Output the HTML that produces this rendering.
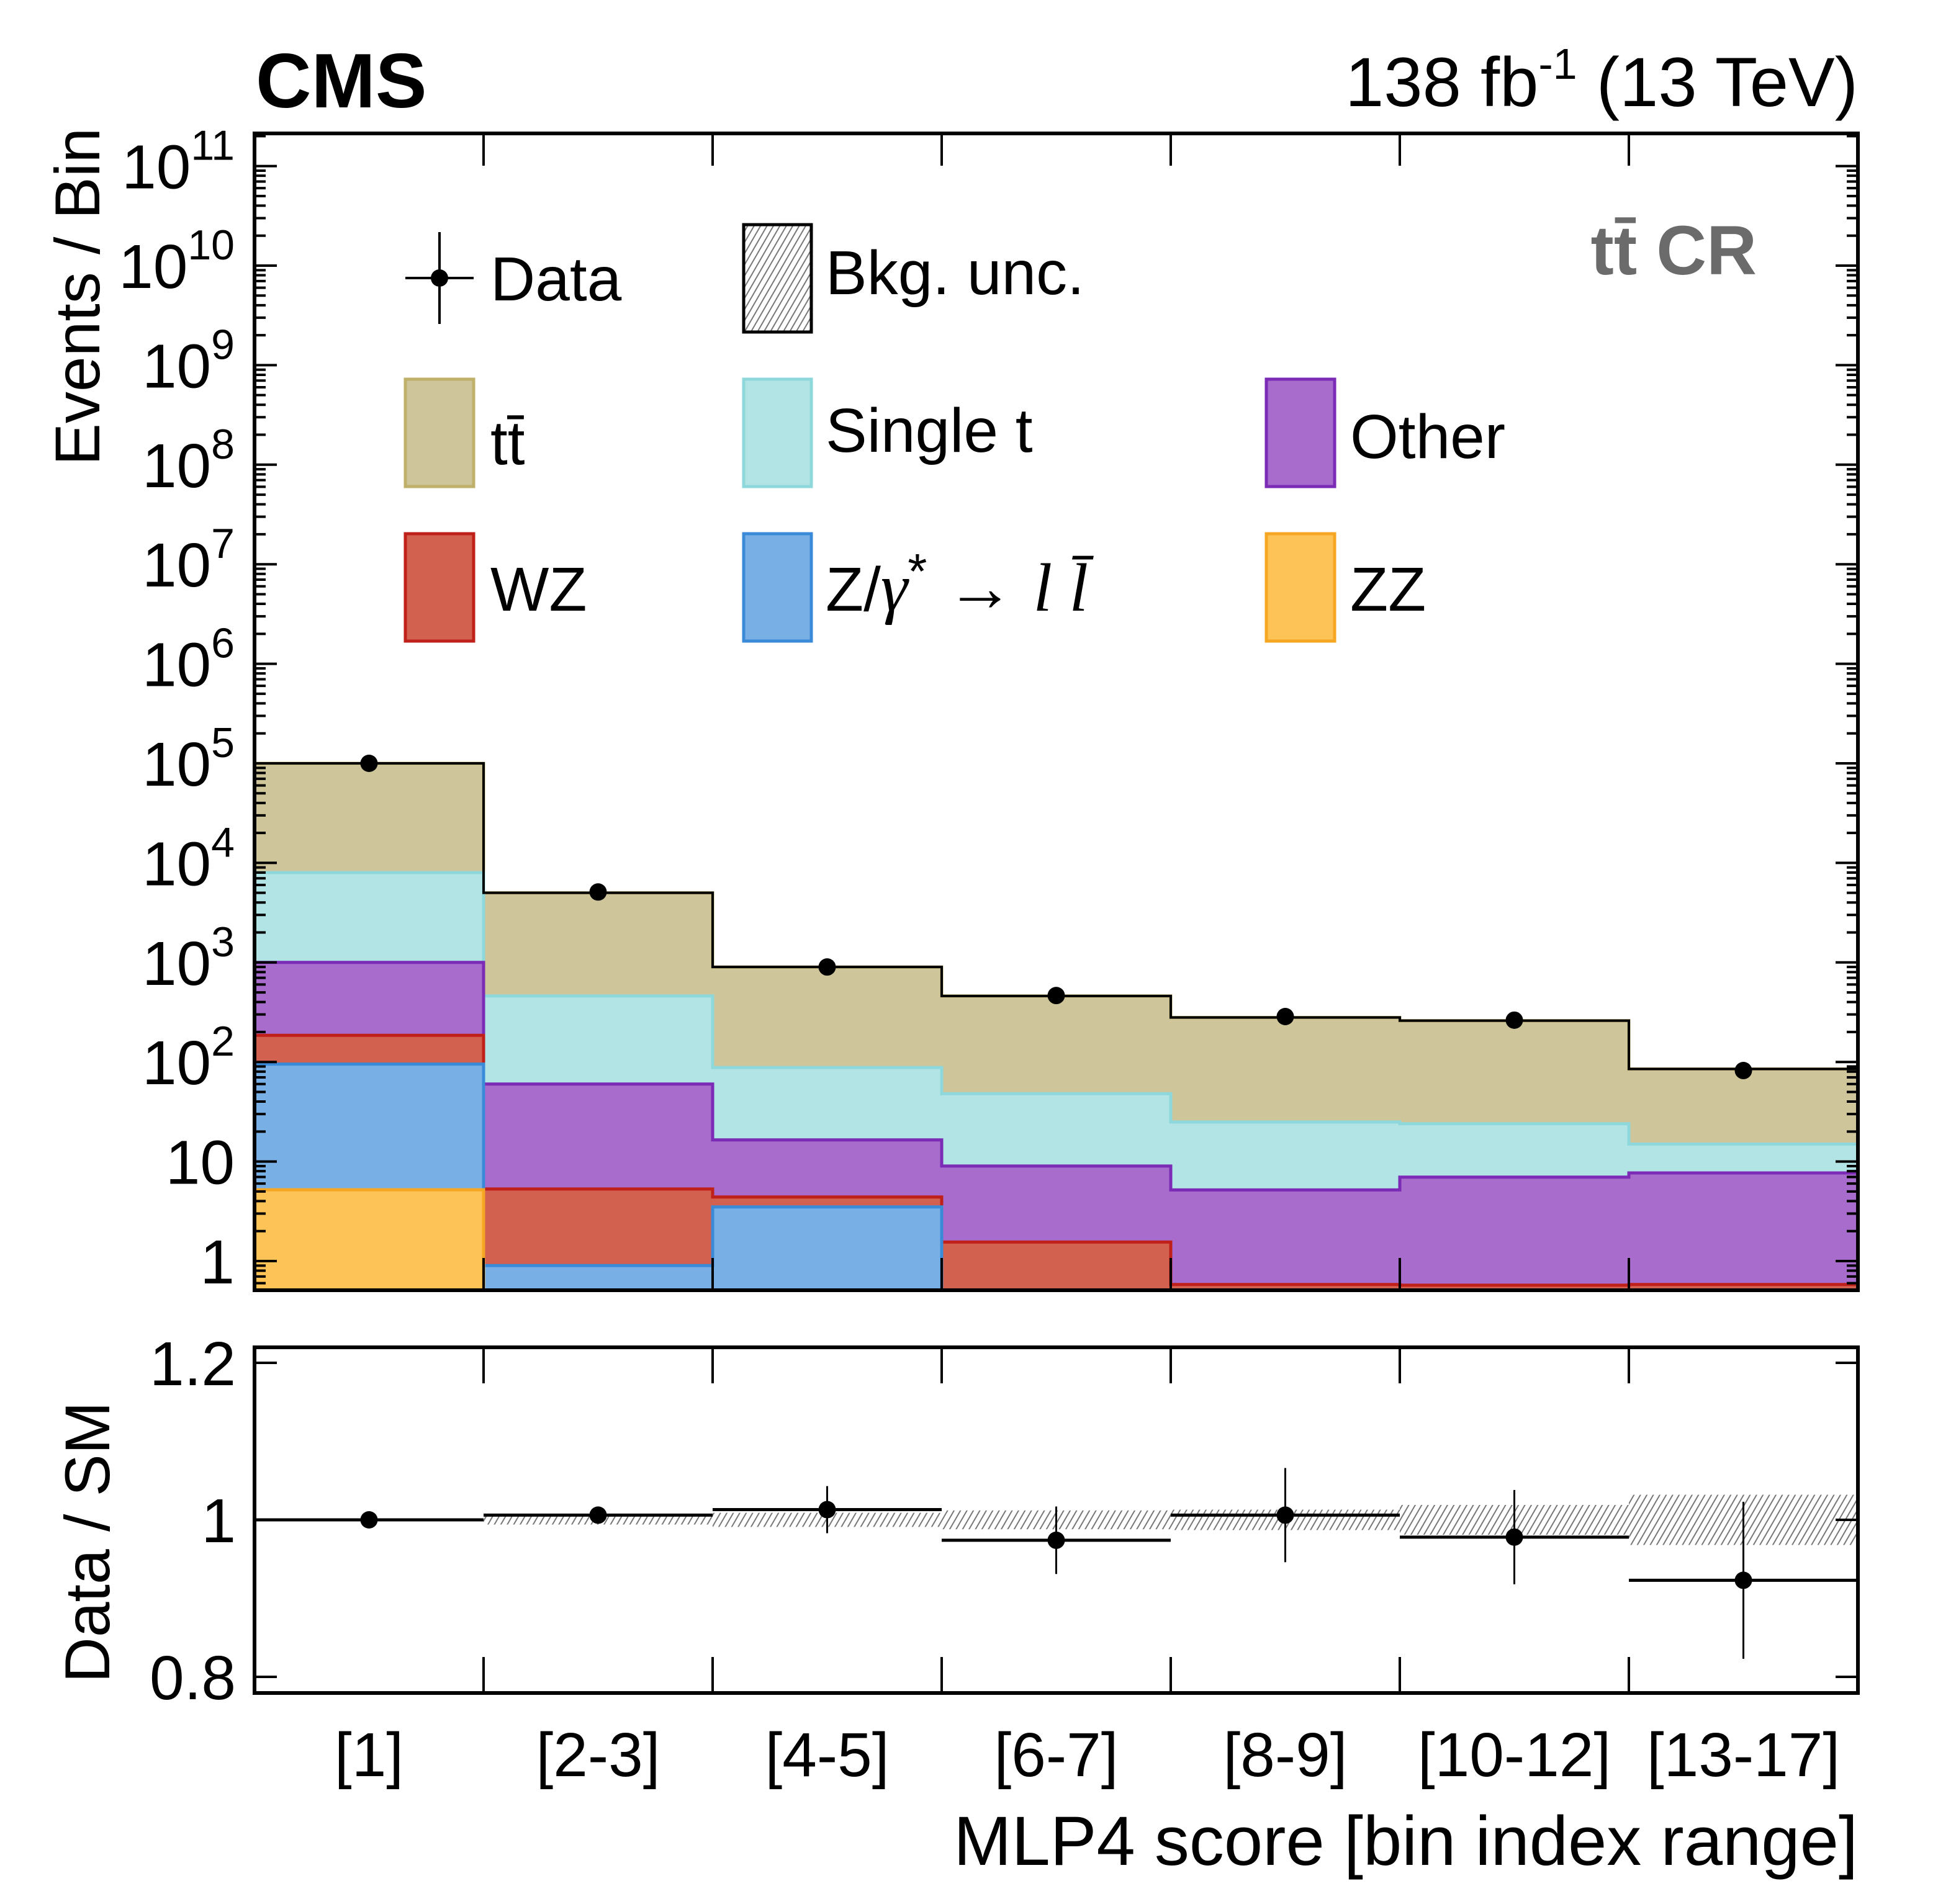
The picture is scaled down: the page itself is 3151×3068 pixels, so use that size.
<!DOCTYPE html>
<html><head><meta charset="utf-8">
<style>
html,body{margin:0;padding:0;background:#fff;}
svg{display:block;font-family:"Liberation Sans",Arial,sans-serif;}
</style></head>
<body>
<svg id="chart" width="3151" height="3068" viewBox="0 0 3151 3068" xmlns="http://www.w3.org/2000/svg">
<defs>
<pattern id="hatch" patternUnits="userSpaceOnUse" width="9" height="9" patternTransform="rotate(30)">
<rect width="9" height="9" fill="#fff"/>
<line x1="0" y1="0" x2="0" y2="9" stroke="#777" stroke-width="4"/>
</pattern>
</defs>
<text x="412" y="173" font-size="124" font-weight="bold">CMS</text>
<text x="2993" y="171" font-size="112" text-anchor="end">138 fb<tspan font-size="70" dy="-44">-1</tspan><tspan dy="44"> (13 TeV)</tspan></text>
<text x="2830" y="442" font-size="112" font-weight="bold" fill="#6b6b6b" text-anchor="end">tt̄ CR</text>
<text transform="translate(160,478) rotate(-90)" font-size="102" text-anchor="middle">Events / Bin</text>
<text transform="translate(176,2485) rotate(-90)" font-size="102" text-anchor="middle">Data / SM</text>
<text x="2993" y="3005" font-size="112" text-anchor="end">MLP4 score [bin index range]</text>
<g id="main"></g>
<g id="ratio"></g>
<g id="legend">
  <g>
    <line x1="653" y1="448" x2="763" y2="448" stroke="#000" stroke-width="4"/>
    <line x1="708" y1="374" x2="708" y2="522" stroke="#000" stroke-width="4"/>
    <circle cx="708" cy="448" r="14" fill="#000"/>
    <text x="790" y="484" font-size="100">Data</text>
  </g>
  <g>
    <rect x="1198" y="362" width="109" height="173" fill="url(#hatch)" stroke="#000" stroke-width="5"/>
    <text x="1330" y="474" font-size="100">Bkg. unc.</text>
  </g>
  <g>
    <rect x="653" y="611" width="110" height="173" fill="#cec59a" stroke="#bfb06a" stroke-width="5"/>
    <text x="790" y="748" font-size="100">tt̄</text>
  </g>
  <g>
    <rect x="1198" y="611" width="109" height="173" fill="#b2e4e6" stroke="#8ed8dc" stroke-width="5"/>
    <text x="1330" y="728" font-size="100">Single t</text>
  </g>
  <g>
    <rect x="2040" y="611" width="110" height="173" fill="#a86ccc" stroke="#7b2bb5" stroke-width="5"/>
    <text x="2175" y="738" font-size="100">Other</text>
  </g>
  <g>
    <rect x="653" y="860" width="110" height="173" fill="#d2614f" stroke="#c0201a" stroke-width="5"/>
    <text x="790" y="984" font-size="100">WZ</text>
  </g>
  <g>
    <rect x="1198" y="860" width="109" height="173" fill="#78b0e5" stroke="#3a8ad8" stroke-width="5"/>
    <text x="1330" y="984" font-size="100">Z/<tspan font-family="Liberation Serif" font-style="italic" font-size="110">γ</tspan><tspan font-size="80" dy="-36">*</tspan><tspan dy="36" font-size="110"> → </tspan><tspan font-family="Liberation Serif" font-style="italic" font-size="110">l l̄</tspan></text>
  </g>
  <g>
    <rect x="2040" y="860" width="110" height="173" fill="#fec356" stroke="#f5a623" stroke-width="5"/>
    <text x="2175" y="984" font-size="100">ZZ</text>
  </g>
</g>
</svg>
<script>
const categories = ["[1]","[2-3]","[4-5]","[6-7]","[8-9]","[10-12]","[13-17]"];
const zz     = [5.2, 0.001, 0.001, 0.001, 0.001, 0.001, 0.001];
const dy     = [90, 0.9, 3.5, 0.001, 0.001, 0.001, 0.001];
const wz     = [90, 4.4, 0.9, 1.55, 0.58, 0.57, 0.58];
const other  = [815, 54.7, 12.1, 7.45, 4.6, 6.4, 7.1];
const singleT= [7000, 400, 71.5, 39, 19.8, 17, 7.3];
const ttbar  = [92000, 4540, 812, 412, 255, 236, 70];
const dataVals = [100000, 5100, 900, 465, 286, 263, 82];
const ratioVals = [1.0, 1.006, 1.013, 0.974, 1.006, 0.978, 0.923];
const ratioErr  = [0.003, 0.01, 0.03, 0.043, 0.06, 0.06, 0.1];
const bandErr   = [0.001, 0.006, 0.009, 0.012, 0.013, 0.019, 0.032];
const yTickExps = [0,1,2,3,4,5,6,7,8,9,10,11];
const ratioTicks = [0.8, 1, 1.2];

const NS="http://www.w3.org/2000/svg";
const L=410, R=2993, T=215, B=2079, RT=2171, RB=2728;
const nb=categories.length, bw=(R-L)/nb;
const xEdge=i=>L+i*bw;
const xC=i=>L+(i+0.5)*bw;
const yLog=v=>2032-160.4*Math.log10(Math.max(v,1e-3));
const yR=v=>2449-(v-1)*1265;
function mk(tag,attrs,parent){const e=document.createElementNS(NS,tag);for(const k in attrs)e.setAttribute(k,attrs[k]);parent.appendChild(e);return e;}
const main=document.getElementById('main');
const ratio=document.getElementById('ratio');
mk('clipPath',{id:'mclip'},main);
mk('rect',{x:L,y:T,width:R-L,height:B-T},main.lastChild);
mk('clipPath',{id:'rclip'},ratio);
mk('rect',{x:L,y:RT,width:R-L,height:RB-RT},ratio.lastChild);
const stackG=mk('g',{'clip-path':'url(#mclip)'},main);


const comps=[[zz,'#fec356','#f5a623','zz'],[dy,'#78b0e5','#3a8ad8','dy'],[wz,'#d2614f','#c0201a','wz'],[other,'#a86ccc','#7b2bb5','other'],[singleT,'#b2e4e6','#8ed8dc','single-t'],[ttbar,'#cec59a','#bfb06a','ttbar']];
const cum=new Array(nb).fill(0);
const layers=[];
comps.forEach(c=>{const lo=cum.slice();for(let i=0;i<nb;i++)cum[i]+=c[0][i];layers.push([lo,cum.slice(),c]);});
for(let k=layers.length-1;k>=0;k--){
  const [lo,hi,c]=layers[k];
  for(let i=0;i<nb;i++){
    const y=yLog(hi[i]);
    const r=mk('rect',{x:xEdge(i),y:y,width:bw,height:B-y+10,fill:c[1]},stackG);
    
    
  }
  let d='';
  for(let i=0;i<nb;i++){const y=yLog(hi[i]);d+=(i==0?'M':'L')+xEdge(i)+','+y+'L'+xEdge(i+1)+','+y;}
  const p=mk('path',{d:d,fill:'none',stroke:c[2],'stroke-width':5},stackG);
  
  
}
let dt='';
for(let i=0;i<nb;i++){const y=yLog(cum[i]);dt+=(i==0?'M':'L')+xEdge(i)+','+y+'L'+xEdge(i+1)+','+y;}
const tl=mk('path',{d:dt,fill:'none',stroke:'#000','stroke-width':4},stackG);


const fr=mk('rect',{x:L,y:T,width:R-L,height:B-T,fill:'none',stroke:'#000','stroke-width':6},main);


for(let i=1;i<nb;i++){
  mk('line',{x1:xEdge(i),y1:T,x2:xEdge(i),y2:T+52,stroke:'#000','stroke-width':4},main);
  mk('line',{x1:xEdge(i),y1:B,x2:xEdge(i),y2:B-52,stroke:'#000','stroke-width':4},main);
}
for(let e=-1;e<=11;e++){
  for(let m=1;m<=9;m++){
    const v=m*Math.pow(10,e), y=yLog(v);
    if(y<T||y>B) continue;
    const len=m==1?36:18;
    mk('line',{x1:L,y1:y,x2:L+len,y2:y,stroke:'#000','stroke-width':4},main);
    mk('line',{x1:R,y1:y,x2:R-len,y2:y,stroke:'#000','stroke-width':4},main);
  }
}
yTickExps.forEach(e=>{
  const y=yLog(Math.pow(10,e));
  const t=mk('text',{x:378,y:y+36,'font-size':100,'text-anchor':'end'},main);
  
  
  if(e==0){t.textContent='1';}
  else if(e==1){t.textContent='10';}
  else{
    const a=document.createElementNS(NS,'tspan');a.textContent='10';t.appendChild(a);
    const b=document.createElementNS(NS,'tspan');b.setAttribute('font-size','68');b.setAttribute('dy','-46');b.textContent=String(e);t.appendChild(b);
  }
});
dataVals.forEach((v,i)=>{
  const c=mk('circle',{cx:xC(i),cy:yLog(v),r:14,fill:'#000'},main);
  
  
});
const rg=mk('g',{'clip-path':'url(#rclip)'},ratio);
bandErr.forEach((e,i)=>{
  const b=mk('rect',{x:xEdge(i),y:yR(1+e),width:bw,height:Math.max(2,yR(1-e)-yR(1+e)),fill:'url(#hatch)'},rg);
  
  
});
ratioVals.forEach((v,i)=>{
  const g=mk('g',{},rg);
  
  
  mk('line',{x1:xEdge(i),y1:yR(v),x2:xEdge(i+1),y2:yR(v),stroke:'#000','stroke-width':5},g);
  mk('line',{x1:xC(i),y1:yR(v+ratioErr[i]),x2:xC(i),y2:yR(v-ratioErr[i]),stroke:'#000','stroke-width':3},g);
  mk('circle',{cx:xC(i),cy:yR(v),r:14,fill:'#000'},g);
});
const rf=mk('rect',{x:L,y:RT,width:R-L,height:RB-RT,fill:'none',stroke:'#000','stroke-width':6},ratio);


for(let i=1;i<nb;i++){
  mk('line',{x1:xEdge(i),y1:RT,x2:xEdge(i),y2:RT+58,stroke:'#000','stroke-width':4},ratio);
  mk('line',{x1:xEdge(i),y1:RB,x2:xEdge(i),y2:RB-58,stroke:'#000','stroke-width':4},ratio);
}
ratioTicks.forEach(v=>{
  const y=yR(v);
  mk('line',{x1:L,y1:y,x2:L+36,y2:y,stroke:'#000','stroke-width':4},ratio);
  mk('line',{x1:R,y1:y,x2:R-36,y2:y,stroke:'#000','stroke-width':4},ratio);
  const t=mk('text',{x:380,y:y+36,'font-size':100,'text-anchor':'end'},ratio);
  
  
  t.textContent=(v==1?'1':String(v));
});
categories.forEach((c,i)=>{
  const t=mk('text',{x:xC(i),y:2862,'font-size':100,'text-anchor':'middle'},ratio);
  
  
  t.textContent=c;
});
</script>
</body></html>
